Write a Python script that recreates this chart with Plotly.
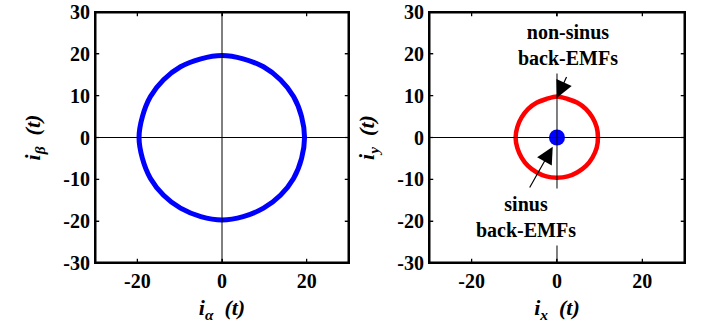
import plotly.graph_objects as go

# i_alpha / i_beta trajectory (left panel)
alpha_x = [19.5, 18.8, 16.9, 13.8, 9.8, 5.0, 0.0, -5.0, -9.8, -13.8, -16.9, -18.8, -19.6,
           -18.8, -16.9, -13.8, -9.8, -5.0, 0.0, 5.0, 9.8, 13.8, 16.9, 18.8, 19.5]
alpha_y = [0.0, 5.0, 9.8, 13.8, 16.9, 18.8, 19.6, 18.8, 16.9, 13.8, 9.8, 5.0, 0.0,
           -5.0, -9.8, -13.8, -16.9, -18.9, -19.7, -18.9, -16.9, -13.8, -9.8, -5.0, 0.0]

# i_x / i_y trajectory, non-sinus back-EMFs (right panel)
nonsin_x = [9.6, 9.3, 8.3, 6.8, 4.8, 2.5, 0.0, -2.5, -4.8, -6.8, -8.3, -9.3, -9.7,
            -9.3, -8.3, -6.8, -4.8, -2.5, 0.0, 2.5, 4.8, 6.8, 8.3, 9.3, 9.6]
nonsin_y = [0.0, 2.5, 4.8, 6.8, 8.3, 9.2, 9.8, 9.2, 8.3, 6.8, 4.8, 2.5, 0.0,
            -2.5, -4.8, -6.8, -8.3, -9.3, -9.6, -9.3, -8.3, -6.8, -4.8, -2.5, 0.0]

# sinus back-EMFs: trajectory collapses to the origin
sin_x = [0.0]
sin_y = [0.0]

axis_range = [-30, 30]
y_ticks = [-30, -20, -10, 0, 10, 20, 30]
x_ticks = [-20, 0, 20]

FONT = "Liberation Serif"
NB = "\u00a0"
TICK = 1.0  # inward tick length in data units (~4 px)


def bold(vals):
    return [f"<b>{v}</b>" for v in vals]


def title(sub):
    return f"<b><i>i</i><sub><i>{sub}</i></sub>{NB}{NB}<i>(t)</i></b>"


def box_traces(xa, ya):
    lo, hi = axis_range
    bx = [lo, hi, hi, lo, lo]
    by = [lo, lo, hi, hi, lo]
    tx, ty = [], []
    for v in x_ticks:
        tx += [v, v, None, v, v, None]
        ty += [lo, lo + TICK, None, hi, hi - TICK, None]
    for v in y_ticks:
        tx += [lo, lo + TICK, None, hi, hi - TICK, None]
        ty += [v, v, None, v, v, None]
    return [
        go.Scatter(x=bx, y=by, mode="lines", line=dict(color="black", width=3), hoverinfo="skip",
                   xaxis=xa, yaxis=ya),
        go.Scatter(x=tx, y=ty, mode="lines", line=dict(color="black", width=1.2), hoverinfo="skip",
                   xaxis=xa, yaxis=ya),
    ]


fig = go.Figure()
fig.add_trace(go.Scatter(x=alpha_x, y=alpha_y, mode="lines", line=dict(color="#0000ff", width=5, shape="spline"),
                         xaxis="x", yaxis="y"))
fig.add_trace(go.Scatter(x=nonsin_x, y=nonsin_y, mode="lines", line=dict(color="#ff0000", width=4.5, shape="spline"),
                         xaxis="x2", yaxis="y2"))
fig.add_trace(go.Scatter(x=sin_x, y=sin_y, mode="markers", marker=dict(color="#0000ff", size=16),
                         xaxis="x2", yaxis="y2"))
for t in box_traces("x", "y") + box_traces("x2", "y2"):
    fig.add_trace(t)

axis_common = dict(
    range=axis_range, showgrid=False, zeroline=False, showline=True, linecolor="black",
    mirror="ticks", ticks="inside", ticklen=4, tickcolor="black", automargin=False,
    layer="below traces",
    tickfont=dict(family=FONT, size=20, color="black"),
)
title_font = dict(family=FONT, size=22, color="black")

fig.update_layout(
    width=704, height=336,
    margin=dict(l=95, r=19, t=12, b=73),
    paper_bgcolor="white", plot_bgcolor="white",
    showlegend=False,
    xaxis=dict(domain=[0, 0.4305], tickvals=x_ticks, ticktext=bold(x_ticks), anchor="y",
               title=dict(text=title("α"), standoff=8, font=title_font), **axis_common),
    yaxis=dict(domain=[0, 1], tickvals=y_ticks, ticktext=bold(y_ticks), anchor="x",
               title=dict(text=title("β"), standoff=16, font=title_font), **axis_common),
    xaxis2=dict(domain=[0.5661, 1], tickvals=x_ticks, ticktext=bold(x_ticks), anchor="y2",
                title=dict(text=title("x"), standoff=8, font=title_font), **axis_common),
    yaxis2=dict(domain=[0, 1], tickvals=y_ticks, ticktext=bold(y_ticks), anchor="x2",
                title=dict(text=title("y"), standoff=16, font=title_font), **axis_common),
)

# axis cross lines through the origin, drawn above the data
for xr, yr in (("x", "y"), ("x2", "y2")):
    fig.add_shape(type="line", xref=f"{xr} domain", yref=yr, x0=0, x1=1, y0=0, y1=0,
                  line=dict(color="black", width=1), layer="above")
    fig.add_shape(type="line", xref=xr, yref=f"{yr} domain", x0=0, x1=0, y0=0, y1=1,
                  line=dict(color="black", width=1), layer="above")

label_font = dict(family=FONT, size=20, color="black")
fig.add_annotation(xref="x2", yref="y2", x=2.6, y=22.0, text="<b>non-sinus<br>back-EMFs</b>", showarrow=False,
                   font=label_font, bgcolor="white", borderpad=4)
fig.add_annotation(xref="x2", yref="y2", x=-7.3, y=-19.1, text="<b>sinus<br>back-EMFs</b>", showarrow=False,
                   font=label_font, bgcolor="white", borderpad=4)

fig.add_annotation(xref="x2", yref="y2", axref="x2", ayref="y2", x=0.0, y=9.5, ax=2.4, ay=14.8,
                   text="", showarrow=True, arrowhead=2, arrowsize=2.8, arrowwidth=1.2, arrowcolor="black")
fig.add_annotation(xref="x2", yref="y2", axref="x2", ayref="y2", x=-1.0, y=-2.2, ax=-6.6, ay=-12.3,
                   text="", showarrow=True, arrowhead=2, arrowsize=2.8, arrowwidth=1.2, arrowcolor="black")

fig.write_html("out.html", config={"displayModeBar": False}, post_script="document.body.style.margin='0';")
